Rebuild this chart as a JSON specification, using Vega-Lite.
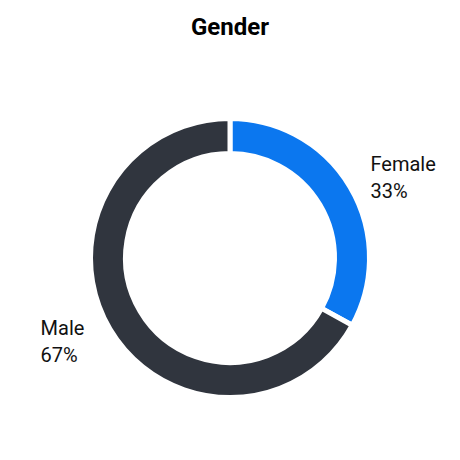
{
  "$schema": "https://vega.github.io/schema/vega-lite/v6.json",
  "autosize": {"type": "fit", "contains": "padding"},
  "width": 460,
  "height": 460,
  "padding": {"top": 16, "left": 0, "right": 0, "bottom": 0},
  "background": "white",
  "title": {"text": "Gender", "font": "Roboto", "fontSize": 24, "fontWeight": "bold", "color": "#000000", "anchor": "middle", "offset": 16},
  "data": {"values": [
    {"gender": "Female", "value": 33, "label": "Female\n33%"},
    {"gender": "Male", "value": 67, "label": "Male\n67%"}
  ]},
  "encoding": {
    "theta": {"field": "value", "type": "quantitative", "stack": true},
    "color": {"field": "gender", "type": "nominal", "scale": {"domain": ["Female", "Male"], "range": ["#0b77ef", "#30353e"]}, "legend": null}
  },
  "layer": [
    {"mark": {"type": "arc", "outerRadius": 139.5, "innerRadius": 104.5, "stroke": "white", "strokeWidth": 5}},
    {"mark": {"type": "text", "radius": 162, "align": "left", "dx": {"expr": "datum.gender == 'Male' ? -50 : 1"}, "dy": -11, "baseline": "middle", "font": "Roboto", "fontSize": 20, "lineHeight": 27, "lineBreak": "\n"},
     "encoding": {"text": {"field": "label"}, "color": {"value": "#111111"}}}
  ],
  "config": {"view": {"stroke": null}}
}
